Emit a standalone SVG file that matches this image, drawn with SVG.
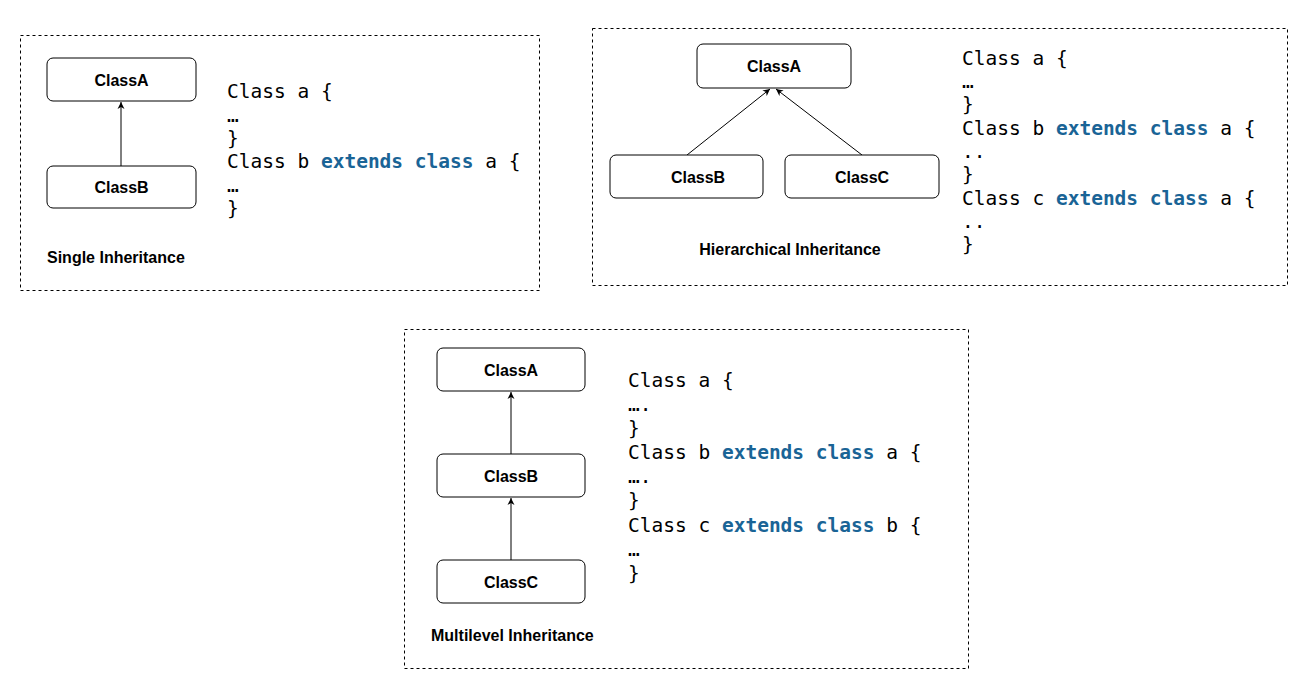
<svg xmlns="http://www.w3.org/2000/svg" width="1305" height="679" viewBox="0 0 1305 679">
<style>
.frame{fill:none;stroke:#000;stroke-width:1;stroke-dasharray:3 3}
.node rect{fill:#fff;stroke:#000;stroke-width:1}
.node text,.lbl{font-family:"Liberation Sans",Arial,sans-serif;font-weight:bold;font-size:16px;fill:#000}
.node text{text-anchor:middle}
.code{font-family:"DejaVu Sans Mono",monospace;font-size:19.5px;fill:#000}
.kw{fill:#1a6496;font-weight:bold}
.conn line{stroke:#000;stroke-width:1;marker-end:url(#arr)}
</style>
<defs><marker id="arr" markerWidth="8" markerHeight="8" refX="7" refY="4" orient="auto" markerUnits="userSpaceOnUse"><path d="M0,0.5 L7,4 L0,7.5 L2,4 Z" fill="#000"/></marker></defs>
<rect width="1305" height="679" fill="#fff"/>
<rect class="frame" x="20.5" y="35.5" width="519" height="255"/>
<rect class="frame" x="592.5" y="28.5" width="695" height="257"/>
<rect class="frame" x="404.5" y="329.5" width="564" height="339"/>
<g class="conn">
<line x1="121" y1="166" x2="121" y2="102"/>
<line x1="687" y1="155" x2="770" y2="89"/>
<line x1="862" y1="155" x2="776" y2="89"/>
<line x1="511" y1="454" x2="511" y2="392"/>
<line x1="511" y1="560" x2="511" y2="498"/>
</g>
<g id="s-a" class="node"><rect x="47" y="58" width="149" height="43" rx="6"/><text x="121.5" y="85.5">ClassA</text></g>
<g id="s-b" class="node"><rect x="47" y="166" width="149" height="42" rx="6"/><text x="121.5" y="193">ClassB</text></g>
<g id="h-a" class="node"><rect x="697" y="44" width="154" height="44" rx="6"/><text x="774" y="72">ClassA</text></g>
<g id="h-b" class="node"><rect x="610" y="155" width="153" height="43" rx="6"/><text x="698" y="183">ClassB</text></g>
<g id="h-c" class="node"><rect x="785" y="155" width="154" height="43" rx="6"/><text x="862" y="183">ClassC</text></g>
<g id="m-a" class="node"><rect x="437" y="348" width="148" height="43" rx="6"/><text x="511" y="375.5">ClassA</text></g>
<g id="m-b" class="node"><rect x="437" y="454" width="148" height="43" rx="6"/><text x="511" y="481.5">ClassB</text></g>
<g id="m-c" class="node"><rect x="437" y="560" width="148" height="43" rx="6"/><text x="511" y="587.5">ClassC</text></g>
<text class="lbl" x="47" y="263">Single Inheritance</text>
<text class="lbl" x="790" y="255" text-anchor="middle">Hierarchical Inheritance</text>
<text class="lbl" x="431" y="641">Multilevel Inheritance</text>
<g class="code">
<text x="227" y="98">Class a {</text>
<text x="227" y="122">…</text>
<text x="227" y="145">}</text>
<text x="227" y="168">Class b <tspan class="kw">extends class</tspan> a {</text>
<text x="227" y="192">…</text>
<text x="227" y="215">}</text>
</g>
<g class="code">
<text x="962" y="65">Class a {</text>
<text x="962" y="88">…</text>
<text x="962" y="111">}</text>
<text x="962" y="135">Class b <tspan class="kw">extends class</tspan> a {</text>
<text x="962" y="158">..</text>
<text x="962" y="181">}</text>
<text x="962" y="205">Class c <tspan class="kw">extends class</tspan> a {</text>
<text x="962" y="228">..</text>
<text x="962" y="251">}</text>
</g>
<g class="code">
<text x="628" y="387">Class a {</text>
<text x="628" y="411">….</text>
<text x="628" y="435">}</text>
<text x="628" y="459">Class b <tspan class="kw">extends class</tspan> a {</text>
<text x="628" y="483">….</text>
<text x="628" y="507">}</text>
<text x="628" y="532">Class c <tspan class="kw">extends class</tspan> b {</text>
<text x="628" y="556">…</text>
<text x="628" y="580">}</text>
</g>
</svg>
